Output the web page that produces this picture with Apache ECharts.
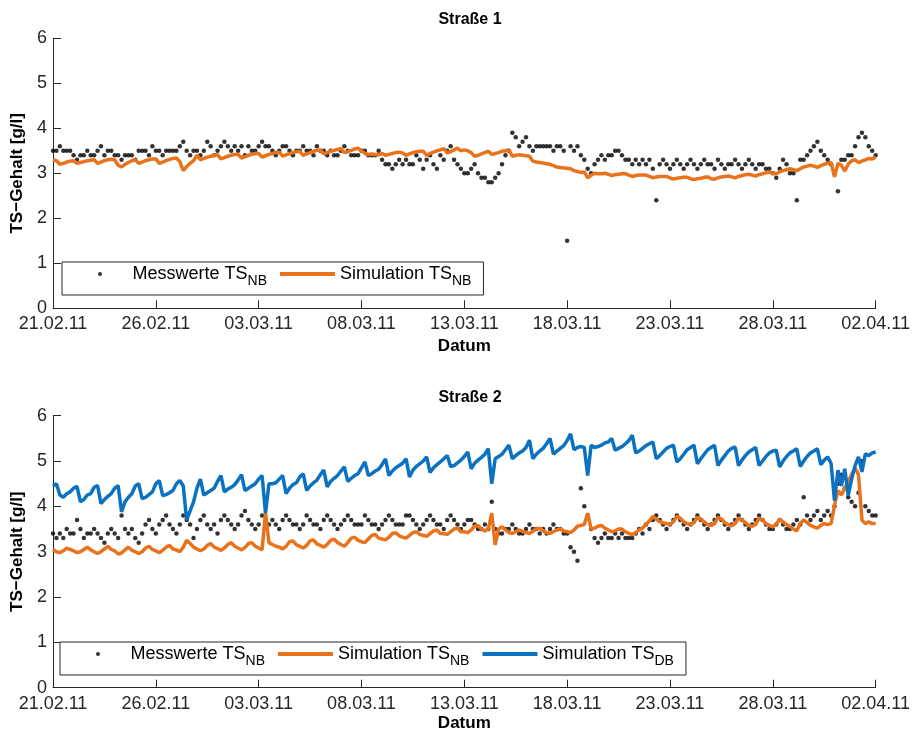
<!DOCTYPE html>
<html>
<head>
<meta charset="utf-8">
<script src="https://cdn.jsdelivr.net/npm/echarts@6/dist/echarts.min.js"></script>
<style>
html,body{margin:0;padding:0;background:#fff;}
#chart{width:913px;height:734px;}
</style>
</head>
<body>
<div id="chart"></div>
<script>
// ---------------- data ----------------
const STEP_H = 4; // hours between consecutive samples (6 per day), starting 21.02.11 00:00
const xTickLabels = ['21.02.11','26.02.11','03.03.11','08.03.11','13.03.11','18.03.11','23.03.11','28.03.11','02.04.11'];
const yTicks = [0,1,2,3,4,5,6];
const titles = ['Straße 1','Straße 2'];

// Straße 1 – Messwerte TS_NB
const mess1 = [
3.5,3.5,3.6,3.5,3.5,3.5, 3.4,3.3,3.4,3.4,3.5,3.4, 3.4,3.5,3.6,3.4,3.5,3.5, 3.4,3.4,3.3,3.4,3.4,3.4,
3.3,3.5,3.5,3.5,3.4,3.6, 3.5,3.5,3.4,3.5,3.5,3.5, 3.5,3.6,3.7,3.5,3.4,3.5, 3.5,3.4,3.5,3.7,3.6,3.4,
3.5,3.6,3.7,3.6,3.5,3.6, 3.5,3.6,3.4,3.6,3.5,3.5, 3.6,3.7,3.6,3.6,3.5,3.4, 3.5,3.6,3.6,3.5,3.4,3.5,
3.5,3.6,3.5,3.5,3.4,3.6, 3.5,3.5,3.4,3.5,3.4,3.4, 3.5,3.6,3.5,3.4,3.4,3.4, 3.5,3.5,3.4,3.4,3.4,3.5,
3.3,3.2,3.2,3.1,3.2,3.3, 3.2,3.3,3.2,3.2,3.4,3.3, 3.1,3.3,3.4,3.2,3.1,3.4, 3.3,3.5,3.6,3.3,3.2,3.1,
3.0,3.0,3.1,3.2,3.0,2.9, 2.9,2.8,2.8,2.9,3.0,3.2, 3.4,3.5,3.9,3.8,3.6,3.7, 3.8,3.6,3.5,3.6,3.6,3.6,
3.6,3.6,3.5,3.6,3.6,3.5, 1.5,3.6,3.5,3.6,3.4,3.3, 3.1,3.0,3.2,3.3,3.4,3.3, 3.4,3.4,3.5,3.5,3.4,3.3,
3.3,3.2,3.3,3.2,3.3,3.2, 3.3,3.1,2.4,3.2,3.3,3.2, 3.1,3.2,3.3,3.2,3.1,3.2, 3.3,3.2,3.1,3.2,3.3,3.2,
3.2,3.1,3.3,3.2,3.1,3.2, 3.2,3.3,3.2,3.1,3.2,3.3, 3.2,3.1,3.2,3.2,3.1,3.1, 3.0,2.9,3.1,3.3,3.2,3.0,
3.0,2.4,3.3,3.3,3.4,3.5, 3.6,3.7,3.5,3.4,3.3,3.2, 3.0,2.6,3.3,3.3,3.4,3.4, 3.6,3.8,3.9,3.8,3.6,3.5,
3.4];

// Straße 1 – Simulation TS_NB
const sim1 = [
3.30,3.28,3.20,3.22,3.25,3.27, 3.28,3.22,3.24,3.26,3.28,3.29, 3.30,3.22,3.25,3.28,3.30,3.31, 3.30,3.18,3.14,3.20,3.24,3.28,
3.30,3.22,3.25,3.28,3.30,3.32, 3.32,3.22,3.25,3.28,3.31,3.33, 3.34,3.26,3.06,3.15,3.22,3.28, 3.40,3.30,3.33,3.36,3.38,3.40,
3.41,3.32,3.35,3.38,3.40,3.42, 3.42,3.34,3.37,3.40,3.42,3.44, 3.44,3.36,3.39,3.42,3.44,3.46, 3.47,3.38,3.41,3.44,3.46,3.48,
3.49,3.40,3.43,3.46,3.49,3.51, 3.52,3.43,3.46,3.49,3.51,3.53, 3.55,3.46,3.48,3.51,3.54,3.56, 3.50,3.44,3.42,3.43,3.42,3.41,
3.44,3.40,3.42,3.44,3.46,3.47, 3.45,3.40,3.43,3.46,3.48,3.49, 3.49,3.40,3.44,3.47,3.50,3.52, 3.55,3.45,3.48,3.52,3.56,3.50,
3.52,3.50,3.46,3.38,3.40,3.43, 3.46,3.49,3.42,3.44,3.46,3.49, 3.50,3.52,3.38,3.40,3.41,3.40, 3.39,3.38,3.27,3.25,3.24,3.23,
3.21,3.20,3.17,3.14,3.13,3.12, 3.11,3.10,3.06,3.04,3.02,3.03, 2.90,2.96,3.00,2.99,2.99,3.00, 2.98,2.95,2.97,2.98,2.99,2.99,
2.96,2.93,2.95,2.96,2.96,2.96, 2.93,2.90,2.92,2.93,2.93,2.93, 2.90,2.87,2.89,2.90,2.91,2.91, 2.88,2.86,2.88,2.89,2.91,2.92,
2.88,2.87,2.90,2.92,2.93,2.94, 2.92,2.90,2.93,2.95,2.97,2.98, 2.96,2.94,2.97,2.99,3.01,3.03, 3.00,2.99,3.03,3.06,3.08,3.10,
3.08,3.06,3.10,3.14,3.16,3.18, 3.16,3.13,3.17,3.20,3.22,3.24, 2.92,3.22,3.18,3.05,3.20,3.28, 3.30,3.24,3.27,3.30,3.33,3.32,
3.36];

// Straße 2 – Messwerte TS_NB
const mess2 = [
3.4,3.3,3.4,3.3,3.5,3.4, 3.4,3.7,3.5,3.3,3.4,3.4, 3.5,3.4,3.3,3.2,3.4,3.5, 3.4,3.3,3.8,3.5,3.4,3.5,
3.3,3.2,3.4,3.6,3.7,3.5, 3.4,3.6,3.7,3.8,3.6,3.5, 3.4,3.6,3.8,3.7,3.6,3.3, 3.5,3.7,3.8,3.6,3.5,3.6,
3.4,3.7,3.8,3.7,3.6,3.5, 3.6,3.8,3.9,3.7,3.6,3.5, 3.6,3.8,3.7,3.6,3.7,3.6, 3.5,3.7,3.8,3.7,3.6,3.6,
3.5,3.6,3.8,3.7,3.6,3.6, 3.5,3.7,3.8,3.7,3.6,3.5, 3.6,3.7,3.8,3.7,3.6,3.6, 3.6,3.8,3.7,3.6,3.6,3.5,
3.6,3.7,3.8,3.7,3.6,3.6, 3.6,3.8,3.8,3.7,3.6,3.5, 3.6,3.7,3.8,3.7,3.6,3.6, 3.5,3.7,3.8,3.7,3.6,3.5,
3.6,3.7,3.7,3.6,3.5,3.5, 3.6,3.5,4.1,3.5,3.4,3.4, 3.5,3.5,3.6,3.5,3.4,3.4, 3.5,3.6,3.5,3.5,3.4,3.5,
3.4,3.5,3.6,3.5,3.5,3.4, 3.4,3.1,3.0,2.8,4.4,4.0, 3.8,3.5,3.3,3.2,3.3,3.4, 3.3,3.3,3.4,3.3,3.4,3.3,
3.3,3.3,3.4,3.5,3.4,3.6, 3.5,3.7,3.8,3.7,3.6,3.5, 3.6,3.7,3.8,3.7,3.6,3.5, 3.6,3.7,3.8,3.7,3.6,3.5,
3.6,3.7,3.8,3.7,3.6,3.5, 3.6,3.7,3.8,3.7,3.6,3.5, 3.6,3.7,3.8,3.7,3.6,3.5, 3.5,3.6,3.7,3.6,3.5,3.5,
3.6,3.7,3.6,4.2,3.8,3.7, 3.8,3.9,3.7,3.8,3.9,3.8, 4.0,4.5,4.7,4.4,4.2,4.1, 4.0,4.3,5.0,4.0,3.9,3.8,
3.8];

// Straße 2 – Simulation TS_NB
const sim2 = [
3.05,3.00,2.98,3.02,3.08,3.05, 3.02,2.98,3.00,3.05,3.10,3.04, 3.00,2.96,3.00,3.06,3.12,3.05, 3.02,2.95,2.97,3.04,3.10,3.03,
3.00,2.96,3.00,3.08,3.12,3.05, 3.02,2.98,3.03,3.10,3.14,3.06, 3.04,3.00,3.10,3.25,3.18,3.10, 3.06,3.02,3.06,3.14,3.18,3.10,
3.07,3.03,3.08,3.16,3.20,3.12, 3.08,3.04,3.09,3.18,3.20,3.12, 3.08,3.04,3.85,3.20,3.16,3.12, 3.10,3.06,3.12,3.22,3.24,3.15,
3.12,3.08,3.14,3.24,3.26,3.17, 3.14,3.10,3.16,3.25,3.28,3.20, 3.16,3.12,3.20,3.30,3.32,3.25, 3.22,3.20,3.28,3.36,3.38,3.30,
3.28,3.26,3.32,3.40,3.42,3.35, 3.32,3.30,3.36,3.42,3.44,3.38, 3.36,3.34,3.40,3.46,3.48,3.40, 3.40,3.38,3.44,3.50,3.52,3.44,
3.44,3.42,3.48,3.56,3.58,3.50, 3.46,3.50,3.85,3.15,3.50,3.55, 3.48,3.42,3.40,3.44,3.48,3.45, 3.42,3.40,3.45,3.50,3.52,3.46,
3.42,3.40,3.44,3.48,3.50,3.46, 3.44,3.42,3.48,3.56,3.58,3.60, 3.85,3.50,3.52,3.56,3.58,3.52, 3.48,3.44,3.46,3.50,3.50,3.44,
3.40,3.38,3.42,3.48,3.52,3.60, 3.68,3.78,3.72,3.66,3.64,3.62, 3.60,3.66,3.78,3.74,3.66,3.62, 3.60,3.64,3.76,3.72,3.66,3.60,
3.58,3.62,3.76,3.72,3.64,3.60, 3.57,3.62,3.74,3.70,3.64,3.58, 3.56,3.60,3.74,3.70,3.62,3.58, 3.55,3.60,3.72,3.66,3.60,3.56,
3.50,3.46,3.62,3.70,3.64,3.58, 3.55,3.52,3.58,3.62,3.60,3.62, 4.02,4.35,4.25,4.40,4.55,4.70, 4.85,4.70,3.70,3.62,3.66,3.62,
3.62];

// Straße 2 – Simulation TS_DB
const simDB2 = [
4.45,4.50,4.25,4.20,4.28,4.32, 4.40,4.44,4.10,4.15,4.25,4.28, 4.42,4.46,4.06,4.15,4.22,4.28, 4.40,4.46,3.88,4.10,4.20,4.28,
4.45,4.50,4.17,4.20,4.26,4.32, 4.50,4.57,4.24,4.26,4.30,4.35, 4.50,4.57,4.45,3.70,3.90,4.10, 4.40,4.60,4.25,4.30,4.35,4.40,
4.55,4.68,4.32,4.38,4.42,4.48, 4.58,4.70,4.35,4.40,4.45,4.50, 4.60,4.68,3.85,4.50,4.50,4.52, 4.60,4.68,4.28,4.40,4.48,4.52,
4.65,4.72,4.35,4.45,4.52,4.58, 4.70,4.80,4.43,4.55,4.62,4.68, 4.78,4.87,4.55,4.62,4.68,4.72, 4.85,4.98,4.68,4.72,4.78,4.82,
4.92,5.05,4.68,4.78,4.85,4.90, 4.95,5.05,4.65,4.80,4.88,4.94, 5.00,5.09,4.75,4.85,4.92,4.98, 5.05,5.12,4.88,4.90,4.96,5.02,
5.10,5.20,4.83,4.95,5.02,5.08, 5.15,5.27,4.50,5.05,5.10,5.15, 5.25,5.35,5.05,5.12,5.18,5.22, 5.30,5.46,5.05,5.15,5.22,5.28,
5.38,5.50,5.15,5.22,5.28,5.34, 5.45,5.60,5.25,5.30,5.32,5.30, 4.68,5.35,5.30,5.32,5.35,5.40, 5.42,5.50,5.24,5.28,5.32,5.38,
5.45,5.57,5.18,5.22,5.28,5.34, 5.38,5.42,5.05,5.12,5.20,5.28, 5.32,5.35,4.98,5.05,5.15,5.25, 5.30,5.35,4.94,5.05,5.15,5.25,
5.30,5.35,4.90,5.02,5.12,5.22, 5.28,5.31,4.90,5.02,5.12,5.20, 5.25,5.30,4.90,5.00,5.10,5.18, 5.22,5.24,4.87,5.00,5.10,5.18,
5.22,5.27,4.88,5.00,5.10,5.18, 5.22,5.27,4.92,5.02,5.09,4.95, 4.13,4.80,4.45,4.83,4.24,4.60, 4.90,5.09,4.76,5.16,5.12,5.18,
5.20];

const legendText = {
  m1: ['Messwerte TS','NB'], s1: ['Simulation TS','NB'],
  m2: ['Messwerte TS','NB'], s2: ['Simulation TS','NB'], d2: ['Simulation TS','DB']
};

// ---------------- chart ----------------
const FONT = '"Liberation Sans", Arial, sans-serif';
const AX = '#262626';
const ORANGE = '#E8731C';
const BLUE = '#0A72C0';
const toXY = arr => arr.map((v, i) => [i * STEP_H / 24, v]);

const chart = echarts.init(document.getElementById('chart'), null, {renderer: 'canvas'});

function xAxisFor(idx, gap) {
  return {
    type: 'value', gridIndex: idx, min: 0, max: 40, interval: 5,
    name: 'Datum', nameLocation: 'middle', nameGap: gap,
    nameTextStyle: {fontFamily: FONT, fontWeight: 'bold', fontSize: 17, color: '#000'},
    axisLine: {show: true, onZero: false, lineStyle: {color: AX, width: 1}},
    axisTick: {show: true, inside: true, length: 8, lineStyle: {color: AX}},
    axisLabel: {fontFamily: FONT, fontSize: 18, color: AX, margin: 7,
      formatter: v => xTickLabels[Math.round(v / 5)]},
    splitLine: {show: false}
  };
}
function yAxisFor(idx) {
  return {
    type: 'value', gridIndex: idx, min: yTicks[0], max: yTicks[yTicks.length - 1], interval: 1,
    name: 'TS\u2212Gehalt [g/l]', nameLocation: 'middle', nameGap: 25,
    nameTextStyle: {fontFamily: FONT, fontWeight: 'bold', fontSize: 17, color: '#000'},
    axisLine: {show: true, onZero: false, lineStyle: {color: AX, width: 1}},
    axisTick: {show: true, inside: true, length: 8, lineStyle: {color: AX}},
    axisLabel: {fontFamily: FONT, fontSize: 18, color: AX, margin: 6},
    splitLine: {show: false}
  };
}
const legendCommon = {
  orient: 'horizontal', itemWidth: 55, itemHeight: 4, itemGap: 13,
  padding: [3, 12, 7, 36], borderColor: AX, borderWidth: 1, backgroundColor: '#fff',
  selectedMode: false,
  formatter: name => '{t|' + legendText[name][0] + '}{s|' + legendText[name][1] + '}',
  textStyle: {
    fontFamily: FONT, fontSize: 18, color: '#000',
    rich: {
      t: {fontFamily: FONT, fontSize: 18, color: '#000', lineHeight: 28, verticalAlign: 'middle'},
      s: {fontFamily: FONT, fontSize: 14, color: '#000', lineHeight: 12, verticalAlign: 'bottom'}
    }
  }
};

const option = {
  animation: false,
  backgroundColor: '#fff',
  title: [
    {text: titles[0], left: 465, top: 7, textAlign: 'center',
     textStyle: {fontFamily: FONT, fontWeight: 'bold', fontSize: 16, color: '#000'}},
    {text: titles[1], left: 465, top: 385, textAlign: 'center',
     textStyle: {fontFamily: FONT, fontWeight: 'bold', fontSize: 16, color: '#000'}}
  ],
  grid: [
    {left: 53, top: 38.3, width: 824, height: 270},
    {left: 53, top: 415.7, width: 824, height: 272}
  ],
  xAxis: [xAxisFor(0, 30), xAxisFor(1, 27)],
  yAxis: [yAxisFor(0), yAxisFor(1)],
  legend: [
    Object.assign({}, legendCommon, {left: 62, top: 262,
      data: [{name: 'm1', icon: 'circle'}, {name: 's1', icon: 'rect'}]}),
    Object.assign({}, legendCommon, {left: 60, top: 642,
      data: [{name: 'm2', icon: 'circle'}, {name: 's2', icon: 'rect'}, {name: 'd2', icon: 'rect'}]})
  ],
  series: [
    {type: 'scatter', name: 'm1', xAxisIndex: 0, yAxisIndex: 0, data: toXY(mess1),
     symbol: 'circle', symbolSize: 4.5, itemStyle: {color: '#000'}, silent: true},
    {type: 'line', name: 's1', xAxisIndex: 0, yAxisIndex: 0, data: toXY(sim1),
     symbol: 'none', showSymbol: false, lineStyle: {color: ORANGE, width: 3.5}, itemStyle: {color: ORANGE}},
    {type: 'scatter', name: 'm2', xAxisIndex: 1, yAxisIndex: 1, data: toXY(mess2),
     symbol: 'circle', symbolSize: 4.5, itemStyle: {color: '#000'}, silent: true},
    {type: 'line', name: 's2', xAxisIndex: 1, yAxisIndex: 1, data: toXY(sim2),
     symbol: 'none', showSymbol: false, lineStyle: {color: ORANGE, width: 3.5}, itemStyle: {color: ORANGE}},
    {type: 'line', name: 'd2', xAxisIndex: 1, yAxisIndex: 1, data: toXY(simDB2),
     symbol: 'none', showSymbol: false, lineStyle: {color: BLUE, width: 3.5}, itemStyle: {color: BLUE}}
  ]
};
chart.setOption(option);
</script>
</body>
</html>
